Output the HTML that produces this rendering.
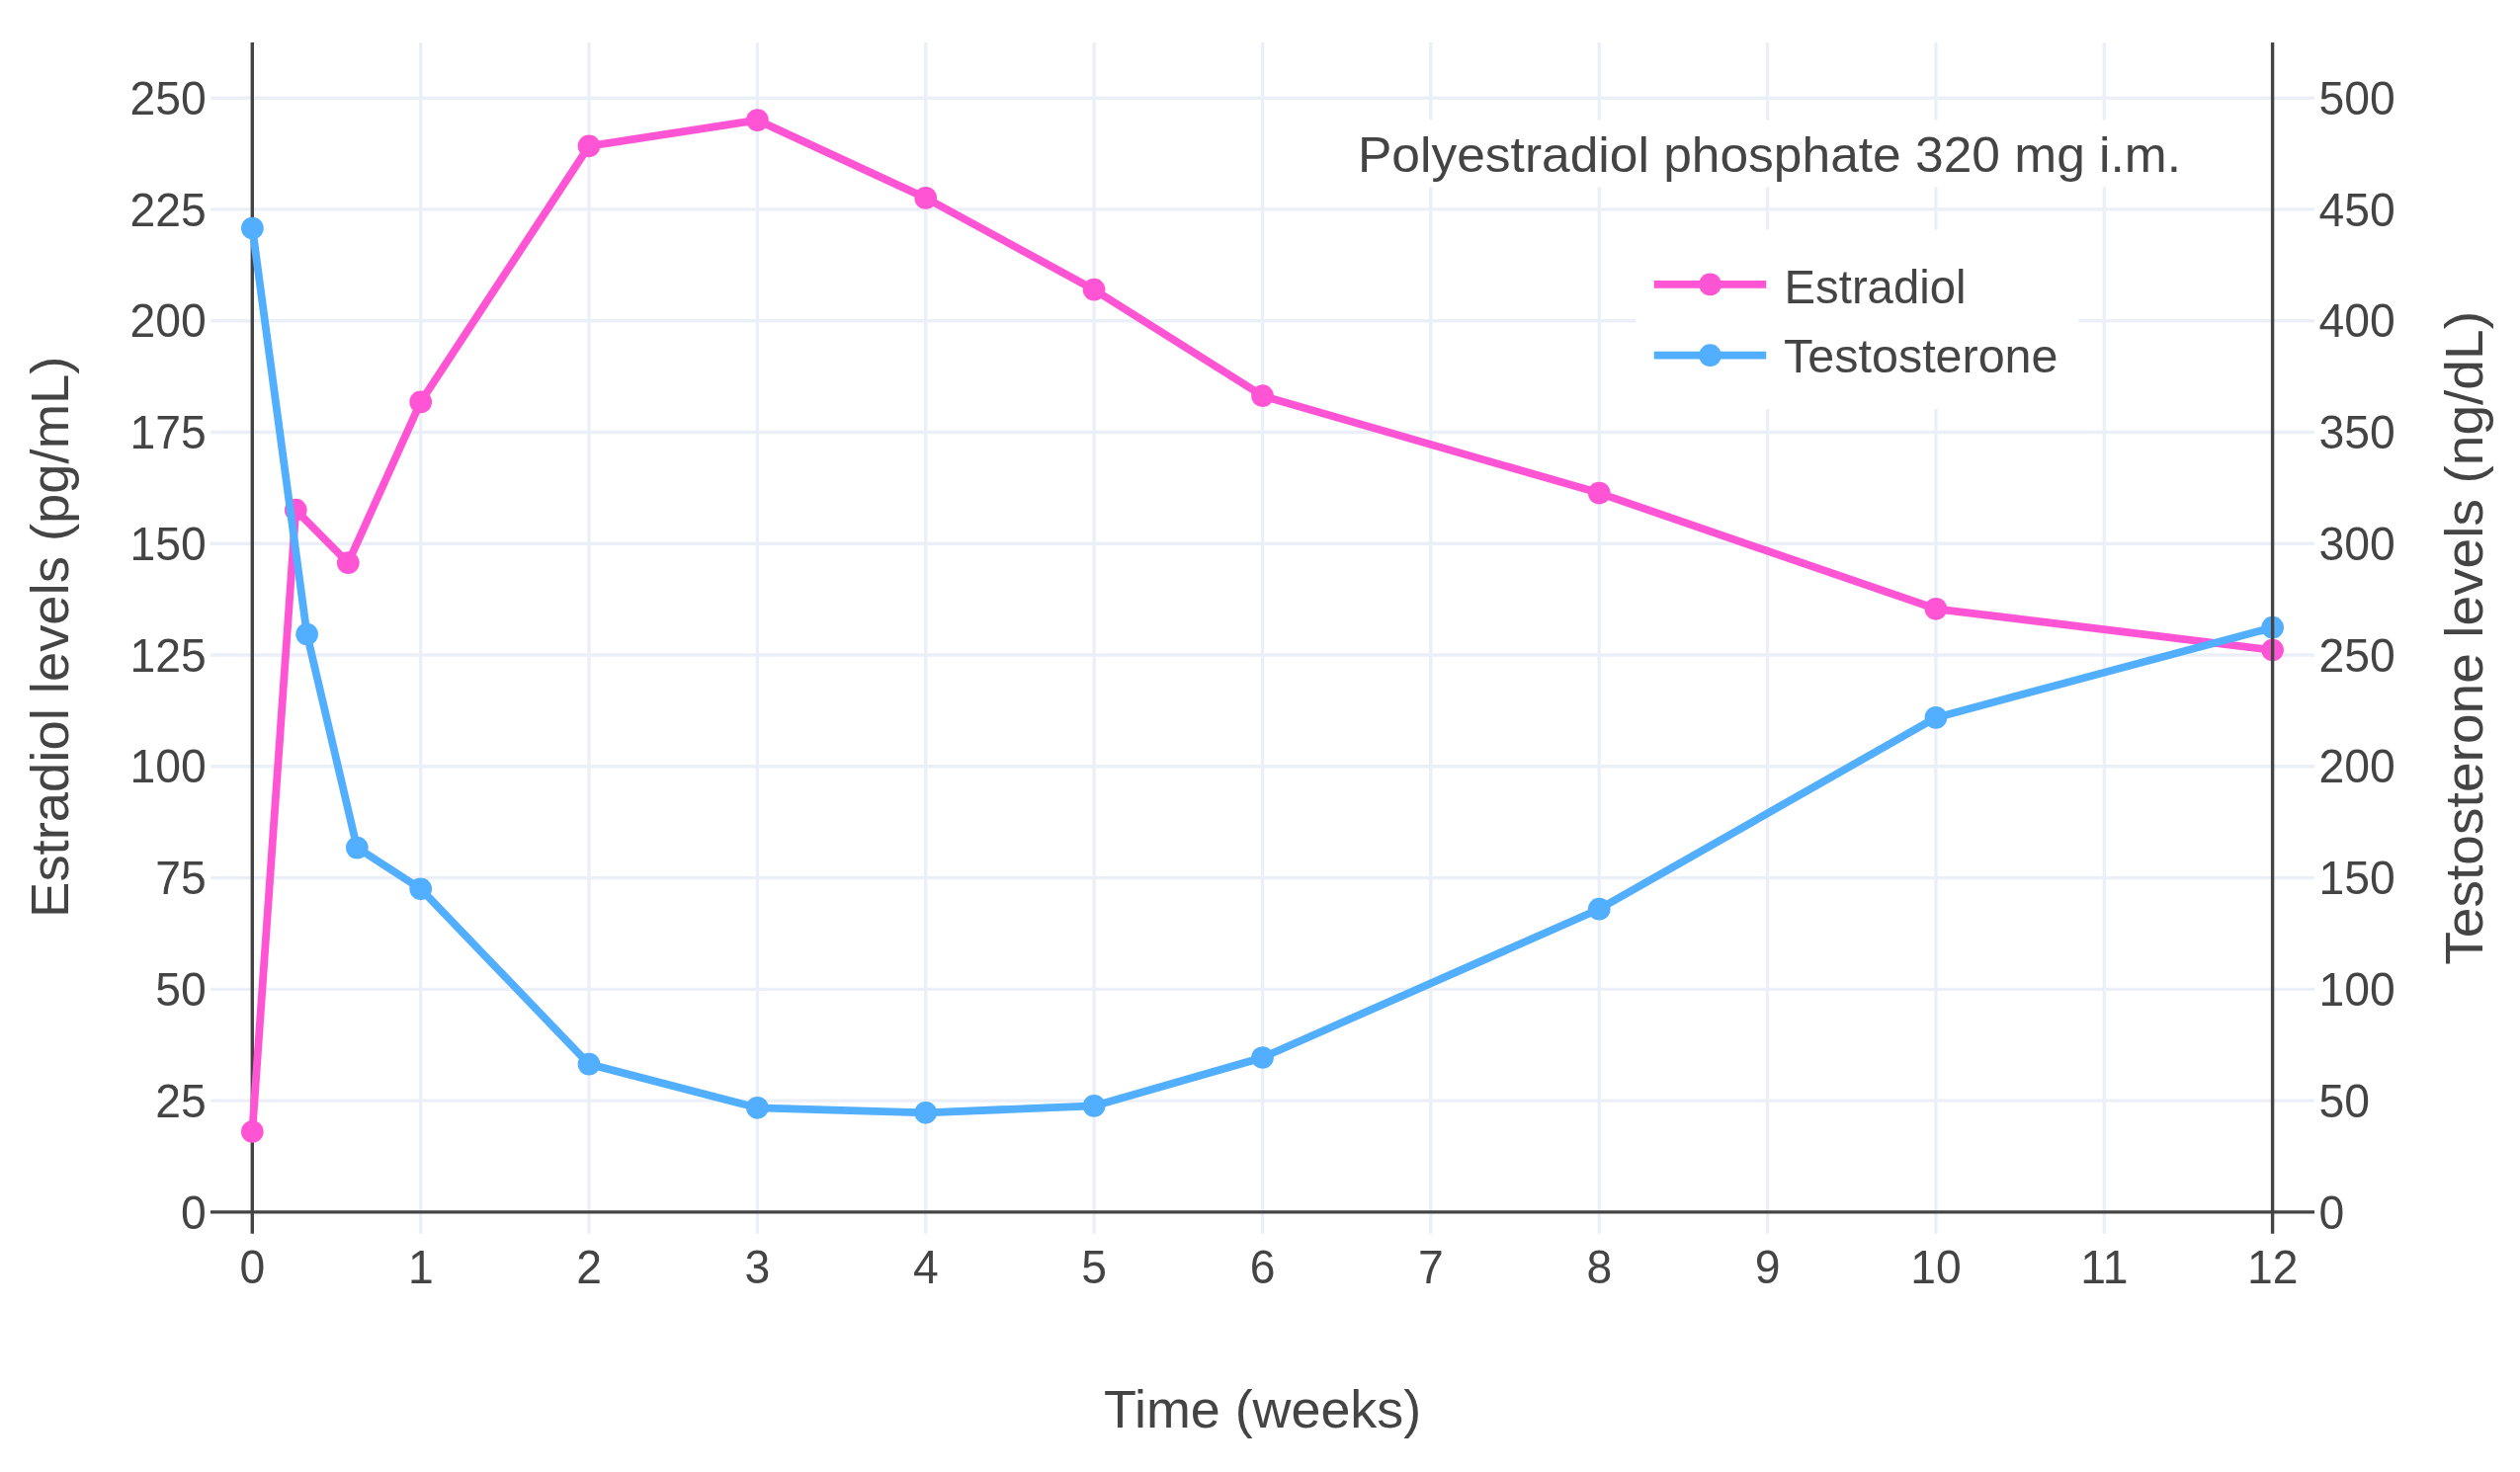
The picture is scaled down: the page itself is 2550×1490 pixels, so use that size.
<!DOCTYPE html>
<html><head><meta charset="utf-8"><title>Polyestradiol phosphate 320 mg i.m.</title><style>
html,body{margin:0;padding:0;background:#fff;overflow:hidden}
svg{display:block;will-change:transform}
text{font-family:"Liberation Sans",sans-serif;fill:#444}
</style></head><body>
<svg width="2550" height="1490" viewBox="0 0 2550 1490">
<path d="M213 1114.1H2342 M213 1001.4H2342 M213 888.6H2342 M213 775.8H2342 M213 663.0H2342 M213 550.3H2342 M213 437.5H2342 M213 324.7H2342 M213 211.9H2342 M213 99.2H2342 M425.7 43V1248.8 M596.0 43V1248.8 M766.4 43V1248.8 M936.7 43V1248.8 M1107.1 43V1248.8 M1277.5 43V1248.8 M1447.8 43V1248.8 M1618.2 43V1248.8 M1788.5 43V1248.8 M1958.9 43V1248.8 M2129.3 43V1248.8" stroke="#EBF0F8" stroke-width="3.4" fill="none"/>
<rect x="1360" y="121.4" width="860" height="67.9" fill="#fff"/>
<rect x="1655.5" y="232.6" width="447.7" height="181.4" fill="#fff"/>
<path d="M255.3 43V1248.8M213 1226.9H2342" stroke="#444444" stroke-width="3.4" fill="none"/>
<path d="M255.3 1145.5 L299.3 516.2 L352.3 569.7 L425.7 406.9 L596.0 147.8 L766.4 121.6 L936.7 200.4 L1107.1 293.2 L1277.5 400.7 L1618.2 499.1 L1958.9 616.3 L2299.6 658.0" stroke="#FF55D5" stroke-width="7.8" fill="none" stroke-linejoin="round"/><circle cx="255.3" cy="1145.5" r="11.35" fill="#FF55D5"/><circle cx="299.3" cy="516.2" r="11.35" fill="#FF55D5"/><circle cx="352.3" cy="569.7" r="11.35" fill="#FF55D5"/><circle cx="425.7" cy="406.9" r="11.35" fill="#FF55D5"/><circle cx="596.0" cy="147.8" r="11.35" fill="#FF55D5"/><circle cx="766.4" cy="121.6" r="11.35" fill="#FF55D5"/><circle cx="936.7" cy="200.4" r="11.35" fill="#FF55D5"/><circle cx="1107.1" cy="293.2" r="11.35" fill="#FF55D5"/><circle cx="1277.5" cy="400.7" r="11.35" fill="#FF55D5"/><circle cx="1618.2" cy="499.1" r="11.35" fill="#FF55D5"/><circle cx="1958.9" cy="616.3" r="11.35" fill="#FF55D5"/><circle cx="2299.6" cy="658.0" r="11.35" fill="#FF55D5"/>
<path d="M255.4 231.0 L310.6 642.0 L361.3 858.1 L425.7 899.8 L596.0 1077.1 L766.4 1121.3 L936.7 1126.3 L1107.1 1119.4 L1277.5 1070.5 L1618.2 920.2 L1958.9 726.4 L2299.6 635.2" stroke="#52AEFF" stroke-width="7.8" fill="none" stroke-linejoin="round"/><circle cx="255.4" cy="231.0" r="11.35" fill="#52AEFF"/><circle cx="310.6" cy="642.0" r="11.35" fill="#52AEFF"/><circle cx="361.3" cy="858.1" r="11.35" fill="#52AEFF"/><circle cx="425.7" cy="899.8" r="11.35" fill="#52AEFF"/><circle cx="596.0" cy="1077.1" r="11.35" fill="#52AEFF"/><circle cx="766.4" cy="1121.3" r="11.35" fill="#52AEFF"/><circle cx="936.7" cy="1126.3" r="11.35" fill="#52AEFF"/><circle cx="1107.1" cy="1119.4" r="11.35" fill="#52AEFF"/><circle cx="1277.5" cy="1070.5" r="11.35" fill="#52AEFF"/><circle cx="1618.2" cy="920.2" r="11.35" fill="#52AEFF"/><circle cx="1958.9" cy="726.4" r="11.35" fill="#52AEFF"/><circle cx="2299.6" cy="635.2" r="11.35" fill="#52AEFF"/>
<path d="M2299.6 43V1248.8" stroke="#444444" stroke-width="3.4" fill="none"/>
<text transform="translate(208.70 1243.50) scale(0.9852 1.0197)" font-size="47" text-anchor="end">0</text>
<text transform="translate(2346.50 1243.50) scale(0.9852 1.0197)" font-size="47">0</text>
<text transform="translate(208.70 1130.72) scale(0.9852 1.0197)" font-size="47" text-anchor="end">25</text>
<text transform="translate(2346.50 1130.72) scale(0.9852 1.0197)" font-size="47">50</text>
<text transform="translate(208.70 1017.95) scale(0.9852 1.0197)" font-size="47" text-anchor="end">50</text>
<text transform="translate(2346.50 1017.95) scale(0.9852 1.0197)" font-size="47">100</text>
<text transform="translate(208.70 905.18) scale(0.9852 1.0197)" font-size="47" text-anchor="end">75</text>
<text transform="translate(2346.50 905.18) scale(0.9852 1.0197)" font-size="47">150</text>
<text transform="translate(208.70 792.40) scale(0.9852 1.0197)" font-size="47" text-anchor="end">100</text>
<text transform="translate(2346.50 792.40) scale(0.9852 1.0197)" font-size="47">200</text>
<text transform="translate(208.70 679.63) scale(0.9852 1.0197)" font-size="47" text-anchor="end">125</text>
<text transform="translate(2346.50 679.63) scale(0.9852 1.0197)" font-size="47">250</text>
<text transform="translate(208.70 566.85) scale(0.9852 1.0197)" font-size="47" text-anchor="end">150</text>
<text transform="translate(2346.50 566.85) scale(0.9852 1.0197)" font-size="47">300</text>
<text transform="translate(208.70 454.08) scale(0.9852 1.0197)" font-size="47" text-anchor="end">175</text>
<text transform="translate(2346.50 454.08) scale(0.9852 1.0197)" font-size="47">350</text>
<text transform="translate(208.70 341.30) scale(0.9852 1.0197)" font-size="47" text-anchor="end">200</text>
<text transform="translate(2346.50 341.30) scale(0.9852 1.0197)" font-size="47">400</text>
<text transform="translate(208.70 228.53) scale(0.9852 1.0197)" font-size="47" text-anchor="end">225</text>
<text transform="translate(2346.50 228.53) scale(0.9852 1.0197)" font-size="47">450</text>
<text transform="translate(208.70 115.75) scale(0.9852 1.0197)" font-size="47" text-anchor="end">250</text>
<text transform="translate(2346.50 115.75) scale(0.9852 1.0197)" font-size="47">500</text>
<text transform="translate(255.40 1298.60) scale(0.9852 1.0197)" font-size="47" text-anchor="middle">0</text>
<text transform="translate(425.76 1298.60) scale(0.9852 1.0197)" font-size="47" text-anchor="middle">1</text>
<text transform="translate(596.12 1298.60) scale(0.9852 1.0197)" font-size="47" text-anchor="middle">2</text>
<text transform="translate(766.48 1298.60) scale(0.9852 1.0197)" font-size="47" text-anchor="middle">3</text>
<text transform="translate(936.84 1298.60) scale(0.9852 1.0197)" font-size="47" text-anchor="middle">4</text>
<text transform="translate(1107.20 1298.60) scale(0.9852 1.0197)" font-size="47" text-anchor="middle">5</text>
<text transform="translate(1277.56 1298.60) scale(0.9852 1.0197)" font-size="47" text-anchor="middle">6</text>
<text transform="translate(1447.92 1298.60) scale(0.9852 1.0197)" font-size="47" text-anchor="middle">7</text>
<text transform="translate(1618.28 1298.60) scale(0.9852 1.0197)" font-size="47" text-anchor="middle">8</text>
<text transform="translate(1788.64 1298.60) scale(0.9852 1.0197)" font-size="47" text-anchor="middle">9</text>
<text transform="translate(1959.00 1298.60) scale(0.9852 1.0197)" font-size="47" text-anchor="middle">10</text>
<text transform="translate(2129.36 1298.60) scale(0.9852 1.0197)" font-size="47" text-anchor="middle">11</text>
<text transform="translate(2299.72 1298.60) scale(0.9852 1.0197)" font-size="47" text-anchor="middle">12</text>
<text transform="translate(1117.11 1445.00) scale(0.9881 1.0000)" font-size="54.5">Time (weeks)</text>
<text transform="translate(69.00 928.89) rotate(-90) scale(0.9982 1.0000)" font-size="54.5">Estradiol levels (pg/mL)</text>
<text transform="translate(2511.90 976.72) rotate(-90) scale(1.0117 1.0000)" font-size="54.5">Testosterone levels (ng/dL)</text>
<text transform="translate(1374.02 173.70) scale(1.0180 1.0000)" font-size="50.6">Polyestradiol phosphate 320 mg i.m.</text>
<path d="M1673.7 287.9H1787.2" stroke="#FF55D5" stroke-width="7.8"/><circle cx="1730.5" cy="287.9" r="11.35" fill="#FF55D5"/>
<path d="M1673.7 359.7H1787.2" stroke="#52AEFF" stroke-width="7.8"/><circle cx="1730.5" cy="359.7" r="11.35" fill="#52AEFF"/>
<text transform="translate(1805.60 306.80) scale(0.9747 1.0000)" font-size="48.5">Estradiol</text>
<text transform="translate(1805.10 376.90) scale(0.9993 1.0000)" font-size="48.5">Testosterone</text>
</svg></body></html>
